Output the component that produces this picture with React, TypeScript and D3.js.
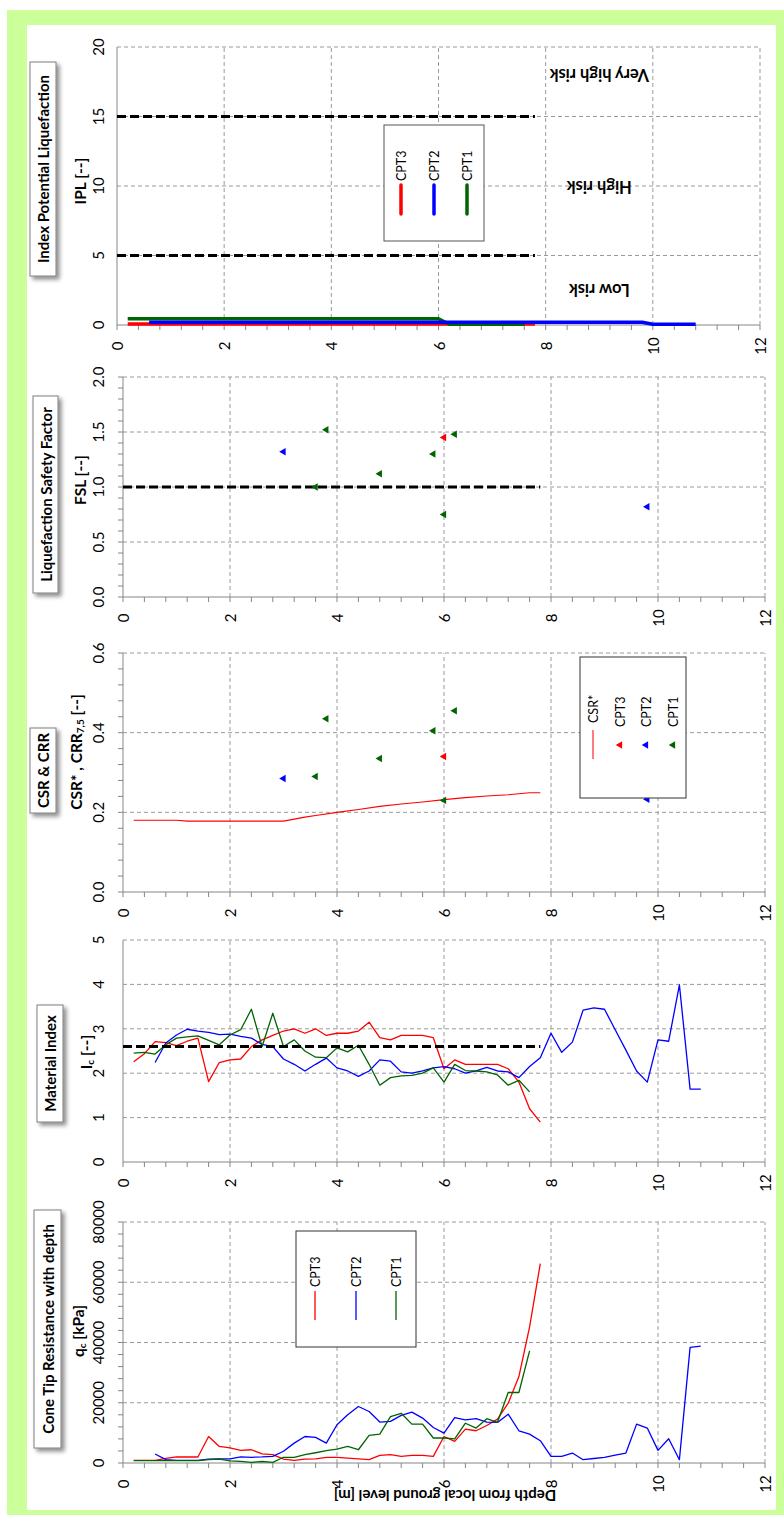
import React from 'react';
import * as d3 from 'd3';

// depth samples [m]
const depthCPT3 = [0.2, 0.4, 0.6, 0.8, 1.0, 1.2, 1.4, 1.6, 1.8, 2.0, 2.2, 2.4, 2.6, 2.8, 3.0, 3.2, 3.4, 3.6, 3.8, 4.0, 4.2, 4.4, 4.6, 4.8, 5.0, 5.2, 5.4, 5.6, 5.8, 6.0, 6.2, 6.4, 6.6, 6.8, 7.0, 7.2, 7.4, 7.6, 7.8];
const depthCPT1 = [0.2, 0.4, 0.6, 0.8, 1.0, 1.2, 1.4, 1.6, 1.8, 2.0, 2.2, 2.4, 2.6, 2.8, 3.0, 3.2, 3.4, 3.6, 3.8, 4.0, 4.2, 4.4, 4.6, 4.8, 5.0, 5.2, 5.4, 5.6, 5.8, 6.0, 6.2, 6.4, 6.6, 6.8, 7.0, 7.2, 7.4, 7.6];
const depthCPT2 = [0.6, 0.8, 1.0, 1.2, 1.4, 1.6, 1.8, 2.0, 2.2, 2.4, 2.6, 2.8, 3.0, 3.2, 3.4, 3.6, 3.8, 4.0, 4.2, 4.4, 4.6, 4.8, 5.0, 5.2, 5.4, 5.6, 5.8, 6.0, 6.2, 6.4, 6.6, 6.8, 7.0, 7.2, 7.4, 7.6, 7.8, 8.0, 8.2, 8.4, 8.6, 8.8, 9.0, 9.2, 9.4, 9.6, 9.8, 10.0, 10.2, 10.4, 10.6, 10.8];

// cone tip resistance qc [kPa]
const qcCPT3 = [900, 900, 900, 1500, 2000, 2000, 2000, 8800, 5500, 5000, 4200, 4400, 3000, 2750, 1300, 900, 1300, 1400, 1900, 1900, 1650, 1400, 1100, 2500, 2750, 2200, 2500, 2500, 2200, 8800, 7200, 11250, 10700, 12460, 14560, 19850, 28700, 45200, 66200];
const qcCPT1 = [800, 800, 800, 800, 800, 800, 800, 1100, 1300, 700, 550, 200, 500, 200, 1900, 1900, 2750, 3400, 4100, 4600, 5500, 4400, 9200, 9600, 15400, 16500, 12900, 12900, 8300, 8300, 8000, 13200, 11600, 14700, 13500, 23400, 23400, 37200];
const qcCPT2 = [3000, 1100, 900, 900, 900, 1300, 1400, 1400, 2000, 1900, 2000, 2200, 3900, 6600, 8800, 8500, 6600, 12700, 16000, 18750, 17100, 13600, 13800, 15800, 16900, 14900, 11800, 9900, 15100, 14340, 14700, 13570, 13460, 16200, 10700, 9600, 7400, 2200, 2200, 3300, 1100, 1500, 1900, 2600, 3300, 12900, 11600, 4200, 8050, 1100, 38400, 38800];

// material index Ic [-]
const icCPT3 = [2.26, 2.44, 2.71, 2.69, 2.62, 2.72, 2.79, 1.81, 2.24, 2.3, 2.32, 2.6, 2.75, 2.85, 2.95, 3.0, 2.9, 3.0, 2.85, 2.9, 2.9, 2.95, 3.15, 2.8, 2.75, 2.85, 2.85, 2.85, 2.8, 2.1, 2.3, 2.2, 2.2, 2.2, 2.2, 2.1, 1.8, 1.2, 0.9];
const icCPT1 = [2.45, 2.47, 2.43, 2.64, 2.79, 2.82, 2.84, 2.74, 2.64, 2.86, 2.98, 3.44, 2.6, 3.35, 2.6, 2.75, 2.5, 2.36, 2.35, 2.57, 2.48, 2.63, 2.2, 1.73, 1.9, 1.94, 1.95, 2.0, 2.12, 1.8, 2.2, 2.06, 2.05, 2.03, 1.96, 1.73, 1.84, 1.58];
const icCPT2 = [2.24, 2.68, 2.86, 2.99, 2.95, 2.92, 2.87, 2.88, 2.83, 2.79, 2.65, 2.6, 2.32, 2.2, 2.05, 2.2, 2.34, 2.12, 2.05, 1.93, 2.05, 2.3, 2.27, 2.03, 2.0, 2.05, 2.12, 2.15, 2.1, 2.0, 2.05, 2.13, 2.05, 2.03, 1.9, 2.15, 2.35, 2.9, 2.47, 2.7, 3.42, 3.47, 3.44, 2.98, 2.52, 2.05, 1.8, 2.75, 2.72, 3.99, 1.64, 1.64];
const icLimit = 2.6;

// CSR* line
const csrDepth = [0.2, 1.0, 1.2, 3.0, 3.4, 3.6, 4.0, 4.4, 4.8, 5.2, 5.6, 6.0, 6.4, 6.8, 7.2, 7.6, 7.8];
const csrValue = [0.18, 0.18, 0.178, 0.178, 0.188, 0.192, 0.2, 0.207, 0.215, 0.221, 0.226, 0.232, 0.237, 0.241, 0.244, 0.249, 0.249];

// CRR 7.5 and FSL points
const ptDepth3 = [6.0];
const crr3 = [0.34];
const fsl3 = [1.45];
const ptDepth2 = [3.0, 9.8];
const crr2 = [0.285, 0.233];
const fsl2 = [1.32, 0.82];
const ptDepth1 = [3.6, 3.8, 4.8, 5.8, 6.0, 6.2];
const crr1 = [0.29, 0.435, 0.335, 0.405, 0.23, 0.455];
const fsl1 = [1.0, 1.52, 1.12, 1.3, 0.75, 1.48];
const fslLimit = 1.0;

// IPL
const iplDepth3 = [0.2, 7.8];
const ipl3 = [0.08, 0.08];
const iplDepth2 = [0.6, 9.8, 10.0, 10.8];
const ipl2 = [0.2, 0.2, 0.05, 0.05];
const iplDepth1 = [0.2, 6.0, 6.2, 7.6];
const ipl1 = [0.45, 0.45, 0.05, 0.05];
const iplLimits = [5, 15];
const riskLabels = ['Very high risk', 'High risk', 'Low risk'];
const riskLevels = [18, 9.9, 2.5];
const limitDepth = [0, 7.8];

const depthTicks = [0, 2, 4, 6, 8, 10, 12];
const depthMinor = d3.range(0, 12.001, 0.4);

const RED = '#ff0000';
const BLUE = '#0000ff';
const GREEN = '#006400';
const GRID = '#9a9a9a';
const AXIS = '#868686';
const FONT = "Lato, 'Open Sans', sans-serif";

type S = d3.ScaleLinear<number, number>;

const zip = (a: number[], b: number[]) => a.map((d, i) => [d, b[i]] as [number, number]);

function Panel(props: {
  x0: number; x1: number; yb: number; yt: number;
  domain: [number, number]; ticks: number[]; minor: number[];
  fmt: (v: number) => string;
  children: (x: S, y: S) => React.ReactNode;
}) {
  const { x0, x1, yb, yt, domain, ticks, minor, fmt, children } = props;
  const x = d3.scaleLinear().domain([0, 12]).range([x0, x1]);
  const y = d3.scaleLinear().domain(domain).range([yb, yt]);
  return (
    <g>
      {ticks.filter((t) => t !== domain[0]).map((t) => (
        <line key={'h' + t} x1={x0} x2={x1} y1={y(t)} y2={y(t)} stroke={GRID} strokeDasharray="4,3" />
      ))}
      {depthTicks.filter((t) => t > 0).map((t) => (
        <line key={'v' + t} x1={x(t)} x2={x(t)} y1={yb} y2={yt} stroke={GRID} strokeDasharray="4,3" />
      ))}
      <line x1={x0} x2={x0} y1={yb} y2={yt} stroke={AXIS} />
      <line x1={x0} x2={x1} y1={yb} y2={yb} stroke={AXIS} />
      {depthMinor.map((t, i) => (
        <line key={'xm' + i} x1={x(t)} x2={x(t)} y1={yb} y2={yb + 5} stroke={AXIS} />
      ))}
      {minor.map((v, i) => (
        <line key={'ym' + i} x1={x0 - 5} x2={x0} y1={y(v)} y2={y(v)} stroke={AXIS} />
      ))}
      {ticks.map((v) => (
        <text key={'yl' + v} transform={`translate(98,${y(v)}) rotate(-90)`} textAnchor="middle"
          dominantBaseline="central" fontSize={15} fill="#000">{fmt(v)}</text>
      ))}
      {depthTicks.map((t) => (
        <text key={'xl' + t} transform={`translate(${x(t)},${yb + 21}) rotate(-90)`} textAnchor="middle"
          dominantBaseline="central" fontSize={15} fill="#000">{t}</text>
      ))}
      {children(x, y)}
    </g>
  );
}

function TitleBox({ x, y, w, h, text }: { x: number; y: number; w: number; h: number; text: string }) {
  return (
    <g>
      <rect x={x} y={y} width={w} height={h} fill="#fff" stroke="#7f7f7f" strokeWidth={1} filter="url(#shadow)" />
      <text transform={`translate(${x + w / 2},${y + h / 2}) rotate(-90)`} textAnchor="middle"
        dominantBaseline="central" fontSize={15} fontWeight="bold">{text}</text>
    </g>
  );
}

const RotLabel = ({ x, y, children, size = 15.5 }: { x: number; y: number; children: React.ReactNode; size?: number }) => (
  <text transform={`translate(${x},${y}) rotate(-90)`} textAnchor="middle" dominantBaseline="central"
    fontSize={size} fontWeight="bold">{children}</text>
);

const tri = d3.symbol(d3.symbolTriangle, 24)() as string;

const Markers = ({ x, y, depth, vals, color }: { x: S; y: S; depth: number[]; vals: number[]; color: string }) => (
  <g>
    {depth.map((d, i) => (
      <path key={i} d={tri} fill={color} transform={`translate(${x(d)},${y(vals[i])}) rotate(-90)`} />
    ))}
  </g>
);

const Series = ({ x, y, depth, vals, color, width = 1.3 }: { x: S; y: S; depth: number[]; vals: number[]; color: string; width?: number }) => {
  const line = d3.line<[number, number]>().x((p) => x(p[0])).y((p) => y(p[1]));
  return <path d={line(zip(depth, vals)) || ''} fill="none" stroke={color} strokeWidth={width} strokeLinejoin="round" />;
};

const LimitLine = ({ x, y, v }: { x: S; y: S; v: number }) => (
  <line x1={x(limitDepth[0])} x2={x(limitDepth[1])} y1={y(v)} y2={y(v)} stroke="#000" strokeWidth={3} strokeDasharray="9,4" />
);

const f1 = d3.format('.1f');
const f0 = d3.format('d');

export default function App() {
  return (
    <svg width={784} height={1515} style={{ position: 'absolute', left: 0, top: 0 }} fontFamily={FONT}>
      <defs>
        <filter id="shadow" x="-30%" y="-10%" width="160%" height="120%">
          <feDropShadow dx={3} dy={3} stdDeviation={2} floodColor="#000" floodOpacity={0.45} />
        </filter>
      </defs>
      <rect x={0} y={0} width={784} height={1515} fill="#fff" />
      <rect x={7} y={10} width={777} height={1505} fill="#ccff99" />
      <rect x={27} y={25} width={749} height={1485} fill="#fff" />

      {/* IPL */}
      <Panel x0={117} x1={760} yb={325} yt={47} domain={[0, 20]} ticks={[0, 5, 10, 15, 20]} minor={[]} fmt={f0}>
        {(x, y) => (
          <g>
            {iplLimits.map((v) => <LimitLine key={v} x={x} y={y} v={v} />)}
            <Series x={x} y={y} depth={iplDepth3} vals={ipl3} color={RED} width={3.5} />
            <Series x={x} y={y} depth={iplDepth1} vals={ipl1} color={GREEN} width={3.5} />
            <Series x={x} y={y} depth={iplDepth2} vals={ipl2} color={BLUE} width={3.5} />
            {riskLabels.map((t, i) => (
              <text key={t} transform={`translate(${x(9)},${y(riskLevels[i])}) rotate(180)`} textAnchor="middle"
                dominantBaseline="central" fontSize={16.5} fontWeight="bold">{t}</text>
            ))}
            <rect x={384} y={125} width={100} height={116} fill="#fff" stroke="#555" />
            {[['CPT3', RED, 401], ['CPT2', BLUE, 434], ['CPT1', GREEN, 467]].map(([n, c, lx]) => (
              <g key={n as string}>
                <line x1={lx as number} x2={lx as number} y1={185} y2={214} stroke={c as string} strokeWidth={3.5} strokeLinecap="round" />
                <text transform={`translate(${lx},181) rotate(-90)`} dominantBaseline="central" fontSize={12.5}>{n}</text>
              </g>
            ))}
          </g>
        )}
      </Panel>
      <TitleBox x={30} y={62} w={26} h={214} text="Index Potential Liquefaction" />
      <RotLabel x={80} y={181}>IPL  [--]</RotLabel>

      {/* FSL */}
      <Panel x0={123} x1={765} yb={597} yt={377} domain={[0, 2]} ticks={[0, 0.5, 1, 1.5, 2]} minor={d3.range(0, 2.001, 0.1)} fmt={f1}>
        {(x, y) => (
          <g>
            <LimitLine x={x} y={y} v={fslLimit} />
            <Markers x={x} y={y} depth={ptDepth3} vals={fsl3} color={RED} />
            <Markers x={x} y={y} depth={ptDepth2} vals={fsl2} color={BLUE} />
            <Markers x={x} y={y} depth={ptDepth1} vals={fsl1} color={GREEN} />
          </g>
        )}
      </Panel>
      <TitleBox x={33} y={396} w={25} h={197} text="Liquefaction Safety Factor" />
      <RotLabel x={80} y={480}>FSL  [--]</RotLabel>

      {/* CSR & CRR */}
      <Panel x0={123} x1={765} yb={892} yt={653} domain={[0, 0.6]} ticks={[0, 0.2, 0.4, 0.6]} minor={d3.range(0, 0.6001, 0.04)} fmt={f1}>
        {(x, y) => (
          <g>
            <Series x={x} y={y} depth={csrDepth} vals={csrValue} color={RED} width={1.1} />
            <Markers x={x} y={y} depth={ptDepth3} vals={crr3} color={RED} />
            <Markers x={x} y={y} depth={ptDepth2} vals={crr2} color={BLUE} />
            <Markers x={x} y={y} depth={ptDepth1} vals={crr1} color={GREEN} />
            <rect x={580} y={657} width={106} height={141} fill="#fff" stroke="#333" />
            <line x1={593} x2={593} y1={730} y2={759} stroke="#ff5050" strokeWidth={1.5} />
            <text transform="translate(593,723) rotate(-90)" dominantBaseline="central" fontSize={12.5}>CSR*</text>
            {[['CPT3', RED, 620], ['CPT2', BLUE, 646], ['CPT1', GREEN, 673]].map(([n, c, lx]) => (
              <g key={n as string}>
                <path d={tri} fill={c as string} transform={`translate(${lx},745) rotate(-90)`} />
                <text transform={`translate(${lx},727) rotate(-90)`} dominantBaseline="central" fontSize={12.5}>{n}</text>
              </g>
            ))}
          </g>
        )}
      </Panel>
      <TitleBox x={30} y={728} w={26} h={85} text="CSR & CRR" />
      <text transform="translate(76,752) rotate(-90)" textAnchor="middle" dominantBaseline="central" fontSize={15.5} fontWeight="bold">
        CSR*  ,  CRR<tspan fontSize={10} dy={4}>7,5</tspan><tspan dy={-4}>  [--]</tspan>
      </text>

      {/* Ic */}
      <Panel x0={123} x1={765} yb={1162} yt={940} domain={[0, 5]} ticks={[0, 1, 2, 3, 4, 5]} minor={[]} fmt={f0}>
        {(x, y) => (
          <g>
            <Series x={x} y={y} depth={depthCPT3} vals={icCPT3} color={RED} />
            <Series x={x} y={y} depth={depthCPT2} vals={icCPT2} color={BLUE} />
            <Series x={x} y={y} depth={depthCPT1} vals={icCPT1} color={GREEN} />
            <LimitLine x={x} y={y} v={icLimit} />
          </g>
        )}
      </Panel>
      <TitleBox x={37} y={1005} w={26} h={117} text="Material Index" />
      <text transform="translate(86,1052) rotate(-90)" textAnchor="middle" dominantBaseline="central" fontSize={15.5} fontWeight="bold">
        I<tspan fontSize={10} dy={4}>c</tspan><tspan dy={-4}>  [--]</tspan>
      </text>

      {/* qc */}
      <Panel x0={123} x1={765} yb={1463} yt={1222} domain={[0, 80000]} ticks={[0, 20000, 40000, 60000, 80000]} minor={d3.range(0, 80001, 4000)} fmt={f0}>
        {(x, y) => (
          <g>
            <Series x={x} y={y} depth={depthCPT3} vals={qcCPT3} color={RED} />
            <Series x={x} y={y} depth={depthCPT2} vals={qcCPT2} color={BLUE} />
            <Series x={x} y={y} depth={depthCPT1} vals={qcCPT1} color={GREEN} />
            <rect x={296} y={1231} width={120} height={116} fill="#fff" stroke="#333" />
            {[['CPT3', RED, 315], ['CPT2', BLUE, 356], ['CPT1', GREEN, 396]].map(([n, c, lx]) => (
              <g key={n as string}>
                <line x1={lx as number} x2={lx as number} y1={1291} y2={1320} stroke={c as string} strokeWidth={1.3} />
                <text transform={`translate(${lx},1287) rotate(-90)`} dominantBaseline="central" fontSize={12.5}>{n}</text>
              </g>
            ))}
          </g>
        )}
      </Panel>
      <TitleBox x={34} y={1210} w={27} h={238} text="Cone Tip Resistance with depth" />
      <text transform="translate(78,1331) rotate(-90)" textAnchor="middle" dominantBaseline="central" fontSize={15.5} fontWeight="bold">
        q<tspan fontSize={10} dy={4}>c</tspan><tspan dy={-4}> [kPa]</tspan>
      </text>
      <text transform="translate(445,1496) rotate(180)" textAnchor="middle" dominantBaseline="central" fontSize={15} fontWeight="bold">
        Depth from local ground level [m]
      </text>
    </svg>
  );
}
